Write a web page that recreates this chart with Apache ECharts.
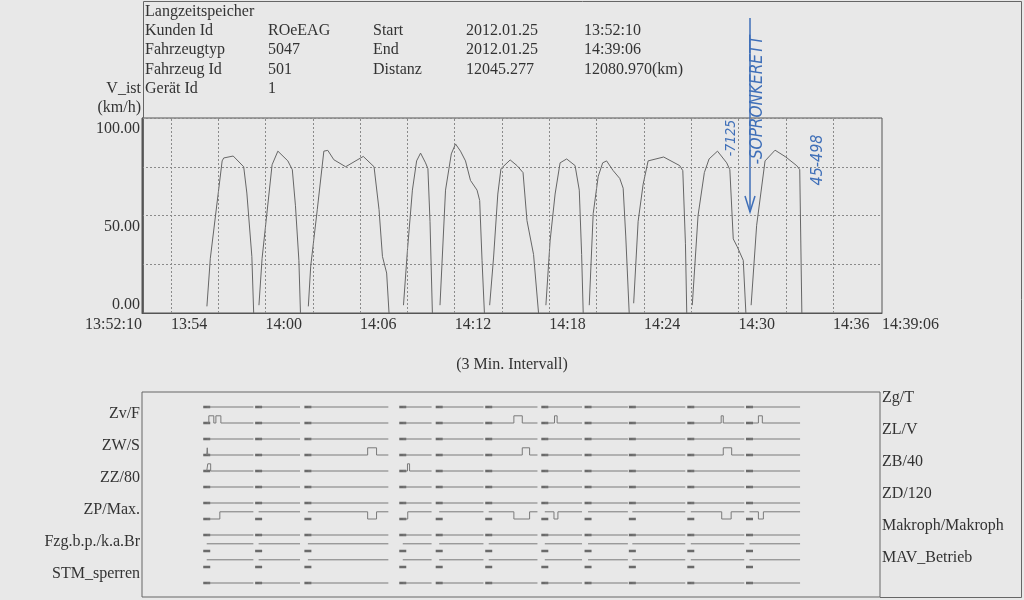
<!DOCTYPE html>
<html><head><meta charset="utf-8">
<script src="https://cdn.jsdelivr.net/npm/echarts@6/dist/echarts.min.js"></script>
<style>html,body{margin:0;padding:0;background:#e8e8e8}#c{width:1024px;height:600px}</style>
</head><body><div id="c"></div>
<script>
// ---------- DATA ----------
const startClock = '13:52:10';
const endClock = '14:39:06';
const totalSeconds = 2816;            // 13:52:10 -> 14:39:06
// speed runs: [seconds since 13:52:10, km/h]
const run1  = [[247,3.4],[260,28],[305,78],[311,79.5],[347,80.5],[387,75],[399,61.5],[418,29],[425,0]];
const run2  = [[445,4],[457,28],[495,76],[517,83],[555,78],[572,73.5],[584,55],[597,27],[603,0]];
const run3  = [[633,3.4],[642,24],[667,53],[692,83],[707,83.4],[730,78.6],[775,75],[842,80.3],[883,75],[902,53],[915,29],[931,20.5],[940,0]];
const run4  = [[995,4],[1010,32],[1029,63],[1045,78],[1060,82],[1079,77],[1088,74],[1096,47],[1105,0]];
const run5  = [[1134,4],[1155,63],[1177,81.6],[1193,86.7],[1212,83],[1231,78],[1250,68],[1275,63],[1285,57.7],[1294,27],[1303,0]];
const run6  = [[1323,4],[1338,28.7],[1354,61],[1366,74],[1401,78.5],[1427,75.6],[1450,72],[1465,47.4],[1490,30],[1509,0]];
const run7  = [[1537,4],[1553,37],[1572,61],[1591,77],[1616,79],[1648,75.6],[1664,63],[1673,30],[1679,0]];
const run8  = [[1702,4],[1717,51],[1736,70],[1753,77],[1768,78],[1793,73],[1818,69],[1831,64],[1841,39],[1854,0]];
const run9  = [[1871,5],[1888,47],[1907,66],[1926,78],[1985,80],[2046,75.6],[2058,73],[2068,35.5],[2073,0]];
const run10 = [[2094,4],[2116,50],[2140,72],[2158,79],[2190,83],[2225,77],[2237,73.5],[2250,38],[2265,34],[2288,27],[2298,0]];
const run11 = [[2318,4],[2339,45],[2371,78],[2409,83.5],[2450,80],[2492,75.5],[2503,73.5],[2511,0]];
const speedRuns = [run1,run2,run3,run4,run5,run6,run7,run8,run9,run10,run11];

// tick / grid positions (seconds since start)
const xGridTimes = [110,290,470,650,830,1010,1190,1370,1550,1730,1910,2090,2270,2450,2630];
const xLabelTimes = [0,110,470,830,1190,1550,1910,2270,2630,2816];
const yLabelValues = [0,50,100];
// where each y label sits (labels are printed slightly off their grid lines)
const yLabelAnchors = [4.1,44.1,94.4];

// digital signals (top to bottom)
const signalNames = ['Zg/T','Zv/F','ZL/V','ZW/S','ZB/40','ZZ/80','ZD/120','ZP/Max.','Makroph/Makroph','Fzg.b.p./k.a.Br','MAV_Betrieb','STM_sperren'];
const signalDefaultHigh = [0,0,0,0,0,0,0,1,0,1,1,0];
const signalToggles = [
  [],
  [[255,274],[282,301],[1419,1451],[1574,1584],[2210,2218],[2352,2367]],
  [],
  [[249,251],[861,895],[1451,1479],[2218,2250]],
  [[251,262],[1013,1021]],
  [],
  [],
  [[247,297],[861,895],[995,1014],[1419,1479],[1572,1587],[2212,2248],[2352,2371]],
  [],
  [],
  [],
  []
];

const headerTitle = 'Langzeitspeicher';
const headerRows = [
  ['Kunden Id','ROeEAG','Start','2012.01.25','13:52:10'],
  ['Fahrzeugtyp','5047','End','2012.01.25','14:39:06'],
  ['Fahrzeug Id','501','Distanz','12045.277','12080.970(km)'],
  ['Gerät Id','1','','','']
];
const notes = ['-7125','-SOPRONKERETT','45-498'];

// ---------- BUILD ----------
const SERIF = "'Liberation Serif','DejaVu Serif',serif";
const HAND = "'Liberation Sans Narrow','DejaVu Sans Condensed','DejaVu Sans',sans-serif";
const TXT = '#333';
const START_SEC = (function(s){const p=s.split(':').map(Number);return p[0]*3600+p[1]*60+p[2];})(startClock);
function clock(off, sec){
  let s = START_SEC + Math.round(off);
  const h = Math.floor(s/3600), m = Math.floor((s%3600)/60), ss = s%60;
  const p = n => (n<10?'0':'')+n;
  return sec ? p(h)+':'+p(m)+':'+p(ss) : p(h)+':'+p(m);
}

const speedData = [];
speedRuns.forEach(r => { r.forEach(pt => speedData.push(pt)); speedData.push([r[r.length-1][0]+1, null]); });

const HIGH_OFF = 0.45, LABEL_LIFT = 0.6;
function yOf(k, lvl){ return k - lvl*HIGH_OFF; }
const signalSeries = signalNames.map((name, i) => {
  const k = i+1, high = signalDefaultHigh[i], pulses = signalToggles[i];
  const inPulse = t => pulses.some(p => t>=p[0] && t<p[1]);
  const bounds = []; pulses.forEach(p => bounds.push(p[0], p[1]));
  const data = [];
  speedRuns.forEach(r => {
    const s = r[0][0], e = r[r.length-1][0];
    let lvl = high ^ (inPulse(s)?1:0);
    data.push([s, yOf(k,lvl)]);
    bounds.filter(b => b>s && b<e).sort((a,b)=>a-b).forEach(b => {
      data.push([b, yOf(k,lvl)]);
      lvl = high ^ (inPulse(b)?1:0);
      data.push([b, yOf(k,lvl)]);
    });
    data.push([e, yOf(k,lvl)]);
    data.push([e+1, null]);
  });
  return {type:'line', name, xAxisIndex:1, yAxisIndex:1, data, showSymbol:false, silent:true,
    lineStyle:{color:'#7a7a7a', width:1}, animation:false};
});
const dashData = [];
signalNames.forEach((n,i) => speedRuns.forEach(r => dashData.push([r[0][0], i+1])));

const leftRows = [2,4,6,8,10,12].map(k => k - LABEL_LIFT);
const rightRows = [1,3,5,7,9,11].map(k => k - LABEL_LIFT);
const sigLabel = v => signalNames[Math.round(v + LABEL_LIFT) - 1] || '';
const yLabel = v => {
  let best = 0;
  yLabelAnchors.forEach((a, i) => { if (Math.abs(a - v) < Math.abs(yLabelAnchors[best] - v)) best = i; });
  return yLabelValues[best].toFixed(2);
};

const VMIN = 1 - 15/16, VMAX = VMIN + 205/16;

// header graphics
const colX = [145, 268, 373, 466, 584];
const rowY = [31, 50, 70, 89];
const graphics = [];
graphics.push({type:'text', x:145, y:12, style:{text:headerTitle, font:'16px '+SERIF, fill:TXT, textVerticalAlign:'middle'}});
headerRows.forEach((row, r) => row.forEach((t, c) => {
  if (t) graphics.push({type:'text', x:colX[c], y:rowY[r], style:{text:t, font:'16px '+SERIF, fill:TXT, textVerticalAlign:'middle'}});
}));
graphics.push({type:'text', x:141, y:89, style:{text:'V_ist', font:'16px '+SERIF, fill:TXT, textAlign:'right', textVerticalAlign:'middle'}});
graphics.push({type:'text', x:141, y:108, style:{text:'(km/h)', font:'16px '+SERIF, fill:TXT, textAlign:'right', textVerticalAlign:'middle'}});
// frame
graphics.push({type:'polyline', shape:{points:[[143.5,313],[143.5,1.5],[1021.5,1.5],[1021.5,597.5],[880,597.5]]}, style:{stroke:'#666', lineWidth:1, fill:null}, silent:true});
// handwritten notes
const BLUE = '#3f6fb8';
graphics.push({type:'text', x:731, y:138, rotation:Math.PI/2, style:{text:notes[0], font:'italic 14px '+HAND, fill:BLUE, textAlign:'center', textVerticalAlign:'middle'}});
graphics.push({type:'text', x:758, y:100, rotation:Math.PI/2, style:{text:notes[1], font:'italic 17px '+HAND, fill:BLUE, textAlign:'center', textVerticalAlign:'middle'}});
graphics.push({type:'text', x:818, y:160, rotation:Math.PI/2, style:{text:notes[2], font:'italic 16px '+HAND, fill:BLUE, textAlign:'center', textVerticalAlign:'middle'}});
graphics.push({type:'line', shape:{x1:750, y1:18, x2:750, y2:212}, style:{stroke:BLUE, lineWidth:1.5}, silent:true});
graphics.push({type:'polyline', shape:{points:[[745,196],[750,212],[755,196]]}, style:{stroke:BLUE, lineWidth:1.5, fill:null}, silent:true});

const chart = echarts.init(document.getElementById('c'), null, {renderer:'canvas'});
chart.setOption({
  backgroundColor:'#e8e8e8',
  animation:false,
  textStyle:{fontFamily:SERIF},
  grid:[
    {left:142, top:118, width:740, height:195, show:true, borderColor:'#555', borderWidth:1, backgroundColor:'transparent', containLabel:false, outerBoundsMode:'none'},
    {left:142, top:392, width:738, height:205, show:true, borderColor:'#666', borderWidth:1, backgroundColor:'transparent', containLabel:false, outerBoundsMode:'none'}
  ],
  xAxis:[
    {type:'value', gridIndex:0, min:0, max:totalSeconds,
     axisLine:{show:true, lineStyle:{color:'#555'}}, axisTick:{show:false}, splitLine:{show:false},
     axisLabel:{customValues:xLabelTimes, color:TXT, fontSize:16, fontFamily:SERIF, margin:4,
       align:'left', alignMinLabel:'right', alignMaxLabel:'left', showMinLabel:true, showMaxLabel:true, hideOverlap:false,
       formatter:v => clock(v, v===0 || v===totalSeconds)},
     name:'(3 Min. Intervall)', nameLocation:'middle', nameGap:44,
     nameTextStyle:{color:TXT, fontSize:16, fontFamily:SERIF}},
    {type:'value', gridIndex:1, min:0, max:totalSeconds, show:false}
  ],
  yAxis:[
    {type:'value', gridIndex:0, min:0, max:100, interval:25,
     axisLine:{show:true, lineStyle:{color:'#555'}}, axisTick:{show:false},
     splitLine:{show:true, lineStyle:{color:'#8a8a8a', type:[2,2], width:1}},
     axisLabel:{customValues:yLabelAnchors, color:TXT, fontSize:16, fontFamily:SERIF, margin:2, formatter:yLabel}},
    {type:'value', gridIndex:1, min:VMIN, max:VMAX, inverse:true, position:'left',
     axisLine:{show:false}, axisTick:{show:false}, splitLine:{show:false},
     axisLabel:{customValues:leftRows, color:TXT, fontSize:16, fontFamily:SERIF, margin:2, formatter:sigLabel}},
    {type:'value', gridIndex:1, min:VMIN, max:VMAX, inverse:true, position:'right',
     axisLine:{show:false}, axisTick:{show:false}, splitLine:{show:false},
     axisLabel:{customValues:rightRows, color:TXT, fontSize:16, fontFamily:SERIF, margin:2, formatter:sigLabel}}
  ],
  series:[
    {type:'line', name:'V_ist', xAxisIndex:0, yAxisIndex:0, data:speedData, showSymbol:false, connectNulls:false,
     lineStyle:{color:'#666', width:1}, silent:true,
     markLine:{silent:true, symbol:['none','none'], label:{show:false}, animation:false,
       lineStyle:{color:'#8a8a8a', type:[2,2], width:1},
       data:xGridTimes.map(t => ({xAxis:t}))}},
    ...signalSeries,
    {type:'scatter', name:'marks', xAxisIndex:1, yAxisIndex:1, data:dashData, symbol:'rect', symbolSize:[7,2.5],
     itemStyle:{color:'#4a4a4a'}, silent:true}
  ],
  graphic:graphics
});
</script></body></html>
